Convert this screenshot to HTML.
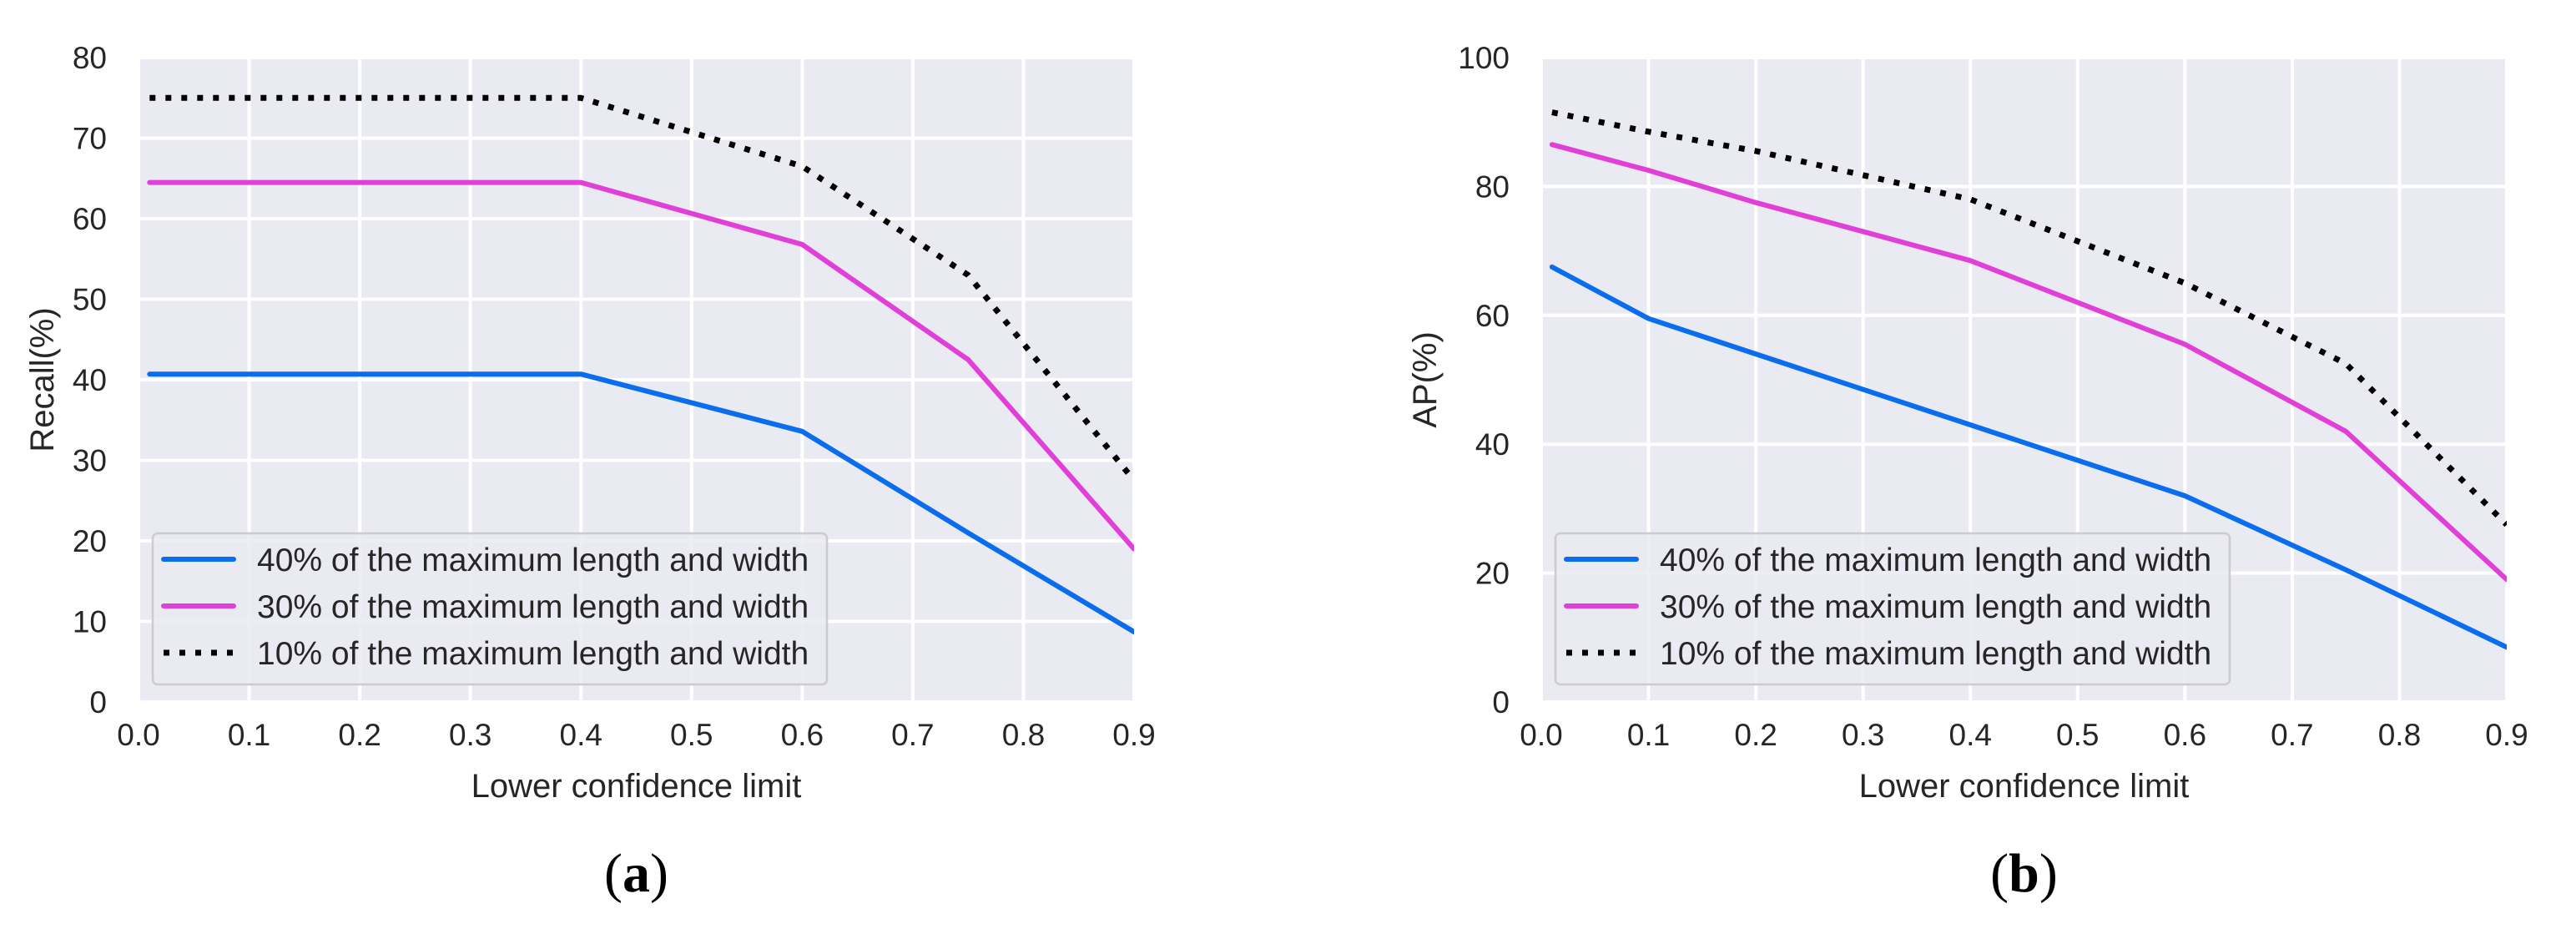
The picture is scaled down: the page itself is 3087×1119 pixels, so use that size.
<!DOCTYPE html>
<html><head><meta charset="utf-8"><style>
html,body{margin:0;padding:0;background:#fff;}
svg{display:block;}
text{font-family:"Liberation Sans",sans-serif;fill:#262626;}
text.cap{font-family:"Liberation Serif",serif;fill:#000;}
</style></head><body>
<svg id="root" width="3087" height="1119" viewBox="0 0 3087 1119" xmlns="http://www.w3.org/2000/svg"></svg>
<script>
const xTicks = [0.0,0.1,0.2,0.3,0.4,0.5,0.6,0.7,0.8,0.9];
const xTickLabels = ["0.0","0.1","0.2","0.3","0.4","0.5","0.6","0.7","0.8","0.9"];
const seriesNames = ["40% of the maximum length and width","30% of the maximum length and width","10% of the maximum length and width"];
const recallX = [0.01,0.4,0.6,0.75,0.9];
const recall40 = [40.7,40.7,33.6,21.0,8.7];
const recall30 = [64.5,64.5,56.8,42.5,19.0];
const recall10 = [75.0,75.0,66.5,53.0,27.5];
const recallYTicks = [0,10,20,30,40,50,60,70,80];
const apX = [0.01,0.1,0.2,0.4,0.6,0.75,0.9];
const ap40 = [67.5,59.5,54.0,43.0,32.0,20.5,8.5];
const ap30 = [86.5,82.5,77.5,68.5,55.5,42.0,19.0];
const ap10 = [91.5,88.5,85.5,78.0,65.0,52.5,27.5];
const apYTicks = [0,20,40,60,80,100];

const NS="http://www.w3.org/2000/svg";
const root=document.getElementById('root');
function mk(tag,attrs,parent){const e=document.createElementNS(NS,tag);for(const k in attrs)e.setAttribute(k,attrs[k]);(parent||root).appendChild(e);return e;}
const colors=["#0a6ded","#e040d8","#000000"];

function chart(cfg){
  const g=mk('g',{});
  
  
  const L=cfg.left,R=cfg.right,T=69,B=841;
  const sx=v=>L+(v-0)/(0.9)*(R-L);
  const sy=v=>B-(v-cfg.ymin)/(cfg.ymax-cfg.ymin)*(B-T);
  const bg=mk('rect',{x:L,y:T,width:R-L,height:B-T,fill:'#eaeaf2'},g);
  
  
  xTicks.forEach((t,i)=>{
    const gl=mk('line',{x1:sx(t),x2:sx(t),y1:T,y2:B,stroke:'#fff','stroke-width':4},g);
    
    
    const tx=mk('text',{x:sx(t),y:893,'font-size':37,'text-anchor':'middle'},g);
    tx.textContent=xTickLabels[i];
    
    
  });
  cfg.yticks.forEach(t=>{
    const gl=mk('line',{x1:L,x2:R,y1:sy(t),y2:sy(t),stroke:'#fff','stroke-width':4},g);
    
    
    const tx=mk('text',{x:cfg.left-38,y:sy(t)+13,'font-size':37,'text-anchor':'end'},g);
    tx.textContent=String(t);
    
    
  });
  const clip=mk('clipPath',{id:cfg.name+'-clip'},g);
  mk('rect',{x:L,y:T,width:R-L,height:B-T},clip);
  cfg.series.forEach((ys,si)=>{
    const pts=cfg.xs.map((x,i)=>sx(x).toFixed(1)+','+sy(ys[i]).toFixed(1)).join(' ');
    const a={points:pts,fill:'none',stroke:colors[si],'stroke-width':6,'clip-path':'url(#'+cfg.name+'-clip)','stroke-linejoin':'round'};
    if(si===2){a['stroke-dasharray']='7 12';a['stroke-width']=7;} else a['stroke-linecap']='round';
    const pl=mk('polyline',a,g);
    
    
  });
  const lx=L+17, ly=639;
  const lg=mk('g',{},g);
  
  
  mk('rect',{x:lx,y:ly,width:808,height:181,rx:6,fill:'#eaeaf2','fill-opacity':0.85,stroke:'#cccccc','stroke-width':2.5},lg);
  seriesNames.forEach((n,i)=>{
    const yy=670+i*56;
    const a={x1:lx+13,x2:lx+97,y1:yy,y2:yy,stroke:colors[i],'stroke-width':6};
    if(i===2){a['stroke-dasharray']='7 12';a['stroke-width']=7;} else a['stroke-linecap']='round';
    const ln=mk('line',a,lg);
    
    
    const tx=mk('text',{x:lx+125,y:yy+14,'font-size':39},lg);
    tx.textContent=n;
    
    
  });
  const xl=mk('text',{x:(L+R)/2,y:955,'font-size':40,'text-anchor':'middle'},g);
  xl.textContent='Lower confidence limit';
  
  
  const yl=mk('text',{x:0,y:0,'font-size':40,'text-anchor':'middle',transform:'translate('+cfg.ylabelX+' 455) rotate(-90)'},g);
  yl.textContent=cfg.ylabel;
  
  
  const cap=mk('text',{x:(L+R)/2,y:1068,'font-size':66,'text-anchor':'middle','class':'cap'},g);
  cap.innerHTML='(<tspan font-weight="bold">'+cfg.cap+'</tspan>)';
  
  
}
chart({name:'recall-chart',left:166,right:1359,ymin:0,ymax:80,yticks:recallYTicks,xs:recallX,series:[recall40,recall30,recall10],ylabel:'Recall(%)',ylabelX:64,cap:'a'});
chart({name:'ap-chart',left:1847,right:3004,ymin:0,ymax:100,yticks:apYTicks,xs:apX,series:[ap40,ap30,ap10],ylabel:'AP(%)',ylabelX:1721,cap:'b'});
</script>
</body></html>
